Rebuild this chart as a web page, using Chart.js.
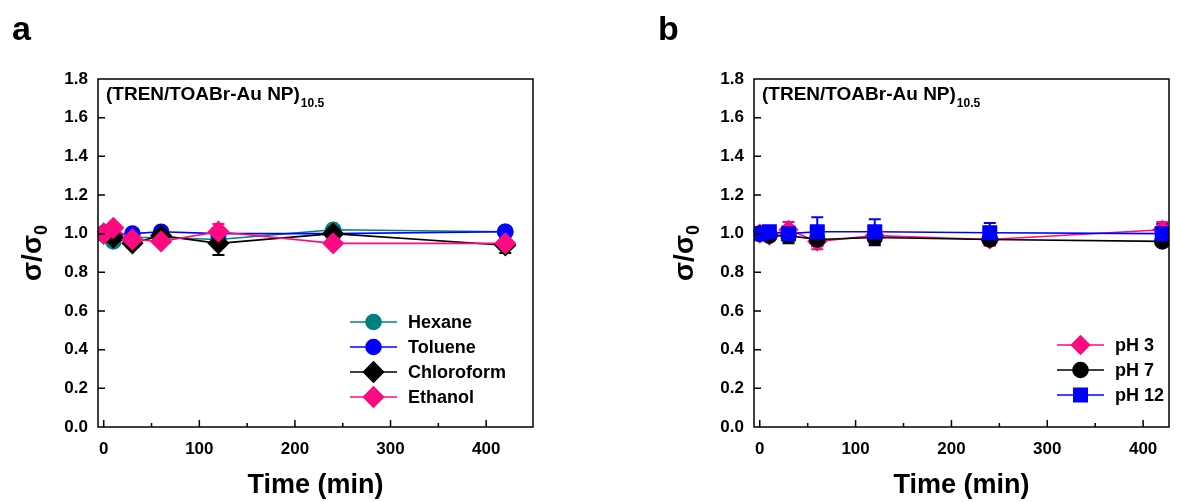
<!DOCTYPE html>
<html>
<head>
<meta charset="utf-8">
<title>Conductivity stability</title>
<script src="https://cdn.jsdelivr.net/npm/chart.js@4.4.1/dist/chart.umd.min.js"></script>
<style>
  html, body { margin: 0; padding: 0; background: #fff; }
  #wrap { position: relative; width: 1182px; height: 502px; overflow: hidden; }
  canvas { position: absolute; top: 0; }
  #chartA { left: 0; }
  #chartB { left: 591px; }
</style>
</head>
<body>
<div id="wrap">
  <canvas id="chartA" width="591" height="502"></canvas>
  <canvas id="chartB" width="591" height="502"></canvas>
</div>
<script>
// panel a: solvent immersion
const timesA = [0, 10, 30, 60, 120, 240, 420];
const hexane = [1.00, 0.96, 0.98, 0.98, 0.97, 1.02, 1.01];
const hexaneErr = [0.01, 0.01, 0.01, 0.01, 0.01, 0.02, 0.01];
const toluene = [1.00, 0.99, 1.00, 1.01, 1.00, 1.00, 1.01];
const tolueneErr = [0.01, 0.01, 0.01, 0.01, 0.01, 0.01, 0.02];
const chloroform = [1.00, 0.98, 0.95, 0.99, 0.95, 1.00, 0.94];
const chloroformErr = [0.01, 0.01, 0.02, 0.02, 0.06, 0.01, 0.04];
const ethanol = [1.00, 1.03, 0.97, 0.96, 1.01, 0.95, 0.95];
const ethanolErr = [0.01, 0.01, 0.01, 0.01, 0.04, 0.01, 0.01];

// panel b: pH immersion
const timesB = [0, 10, 30, 60, 120, 240, 420];
const ph3 = [1.00, 0.99, 1.02, 0.96, 0.99, 0.97, 1.02];
const ph3Err = [0.01, 0.01, 0.04, 0.04, 0.02, 0.03, 0.04];
const ph7 = [1.00, 0.99, 0.99, 0.97, 0.98, 0.97, 0.96];
const ph7Err = [0.01, 0.01, 0.04, 0.03, 0.04, 0.03, 0.02];
const ph12 = [1.00, 1.01, 1.00, 1.01, 1.01, 1.005, 1.00];
const ph12Err = [0.01, 0.02, 0.04, 0.075, 0.065, 0.05, 0.05];

const yTicks = [0, 0.2, 0.4, 0.6, 0.8, 1.0, 1.2, 1.4, 1.6, 1.8];
const xMajor = [0, 100, 200, 300, 400];
const xMinor = [50, 150, 250, 350];

const TEAL = '#008080';
const BLUE = '#0000ff';
const BLACK = '#000000';
const PINK = '#ff0a80';
const FONT = 'Arial, "Liberation Sans", sans-serif';

function series(label, xs, ys, errs, color, style, radius, order) {
  return {
    label: label,
    data: xs.map((x, i) => ({ x: x, y: ys[i] })),
    errors: errs,
    borderColor: color,
    backgroundColor: color,
    pointBackgroundColor: color,
    pointBorderColor: color,
    pointStyle: style,
    pointRadius: radius,
    pointHoverRadius: radius,
    borderWidth: 1.6,
    showLine: true,
    tension: 0,
    order: order
  };
}

// error bars, tick marks, frame, legend and text labels
const decorations = {
  id: 'decorations',
  beforeDatasetsDraw(chart) {
    const ctx = chart.ctx;
    const xs = chart.scales.x, ys = chart.scales.y;
    ctx.save();
    chart.data.datasets.forEach(ds => {
      ctx.strokeStyle = ds.borderColor;
      ctx.lineWidth = 2;
      ds.data.forEach((p, i) => {
        const e = ds.errors[i];
        const px = xs.getPixelForValue(p.x);
        const top = ys.getPixelForValue(p.y + e);
        const bot = ys.getPixelForValue(p.y - e);
        ctx.beginPath();
        ctx.moveTo(px, top); ctx.lineTo(px, bot);
        ctx.moveTo(px - 6, top); ctx.lineTo(px + 6, top);
        ctx.moveTo(px - 6, bot); ctx.lineTo(px + 6, bot);
        ctx.stroke();
      });
    });
    ctx.restore();
  },
  afterDraw(chart) {
    const ctx = chart.ctx;
    const a = chart.chartArea;
    const xs = chart.scales.x, ys = chart.scales.y;
    const o = chart.options.plugins.decorations;
    ctx.save();
    ctx.strokeStyle = '#000';
    ctx.lineWidth = 1.5;
    ctx.strokeRect(a.left, a.top, a.right - a.left, a.bottom - a.top);

    // inward ticks
    ctx.beginPath();
    xMajor.forEach(v => {
      const px = xs.getPixelForValue(v);
      ctx.moveTo(px, a.bottom); ctx.lineTo(px, a.bottom - 7);
    });
    xMinor.forEach(v => {
      const px = xs.getPixelForValue(v);
      ctx.moveTo(px, a.bottom); ctx.lineTo(px, a.bottom - 4);
    });
    yTicks.slice(1, -1).forEach(v => {
      const py = ys.getPixelForValue(v);
      ctx.moveTo(a.left, py); ctx.lineTo(a.left + 7, py);
    });
    ctx.stroke();

    // panel letter
    ctx.fillStyle = '#000';
    ctx.font = 'bold 34px ' + FONT;
    ctx.textBaseline = 'alphabetic';
    ctx.textAlign = 'left';
    ctx.fillText(o.letter, o.letterX, 40);

    // sample label with subscript
    ctx.font = 'bold 19px ' + FONT;
    const main = '(TREN/TOABr-Au NP)';
    ctx.fillText(main, a.left + 8, a.top + 21);
    const w = ctx.measureText(main).width;
    ctx.font = 'bold 12px ' + FONT;
    ctx.fillText('10.5', a.left + 8 + w + 1, a.top + 28);

    // y axis title: sigma / sigma_0
    ctx.translate(o.yTitleX, (a.top + a.bottom) / 2);
    ctx.rotate(-Math.PI / 2);
    const t1 = '\u03c3/\u03c3';
    ctx.font = 'bold 28px ' + FONT;
    const w1 = ctx.measureText(t1).width;
    ctx.font = 'bold 18px ' + FONT;
    const w2 = ctx.measureText('0').width;
    const start = -(w1 + w2) / 2;
    ctx.font = 'bold 28px ' + FONT;
    ctx.textBaseline = 'middle';
    ctx.fillText(t1, start, 0);
    ctx.font = 'bold 18px ' + FONT;
    ctx.fillText('0', start + w1, 9);
    ctx.setTransform(1, 0, 0, 1, 0, 0);

    // legend: line segment with marker, then label
    const L = o.legend;
    chart.data.datasets.slice().sort((p, q) => L.order.indexOf(p.label) - L.order.indexOf(q.label)).forEach((ds, i) => {
      const ly = L.y + i * L.step;
      ctx.strokeStyle = ds.borderColor;
      ctx.lineWidth = 1.6;
      ctx.beginPath();
      ctx.moveTo(L.x, ly); ctx.lineTo(L.x + 47, ly);
      ctx.stroke();
      Chart.helpers.drawPoint(ctx, {
        pointStyle: ds.pointStyle,
        radius: ds.pointRadius,
        borderWidth: 1,
        rotation: 0
      }, L.x + 23.5, ly);
      ctx.fillStyle = ds.borderColor;
      ctx.fill();
      ctx.fillStyle = '#000';
      ctx.font = 'bold 18px ' + FONT;
      ctx.textBaseline = 'middle';
      ctx.textAlign = 'left';
      ctx.fillText(ds.label, L.x + 58, ly + 1);
    });
    ctx.restore();
  }
};

function makeOptions(xMax, padLeft, padRight, deco) {
  return {
    responsive: false,
    animation: false,
    layout: { padding: { left: padLeft, right: padRight, top: 79, bottom: 0 } },
    plugins: {
      legend: { display: false },
      tooltip: { enabled: false },
      decorations: deco
    },
    scales: {
      x: {
        type: 'linear',
        min: -6,
        max: xMax,
        afterFit: s => { s.height = 75; },
        grid: { display: false, drawTicks: false },
        border: { display: false },
        ticks: {
          stepSize: 100,
          includeBounds: false,
          padding: 12,
          color: '#000',
          font: { family: FONT, size: 17, weight: 'bold' }
        },
        title: {
          display: true,
          text: 'Time (min)',
          color: '#000',
          padding: { top: 6, bottom: 0 },
          font: { family: FONT, size: 27, weight: 'bold' }
        }
      },
      y: {
        type: 'linear',
        min: 0,
        max: 1.8,
        afterFit: s => { s.width = 60; },
        afterBuildTicks: s => { s.ticks = yTicks.map(v => ({ value: v })); },
        grid: { display: false, drawTicks: false },
        border: { display: false },
        ticks: {
          padding: 10,
          color: '#000',
          font: { family: FONT, size: 17, weight: 'bold' },
          callback: v => v.toFixed(1)
        }
      }
    }
  };
}

new Chart(document.getElementById('chartA'), {
  type: 'scatter',
  data: {
    datasets: [
      series('Hexane', timesA, hexane, hexaneErr, TEAL, 'circle', 7.5, 3),
      series('Toluene', timesA, toluene, tolueneErr, BLUE, 'circle', 7.5, 2),
      series('Chloroform', timesA, chloroform, chloroformErr, BLACK, 'rectRot', 10, 1),
      series('Ethanol', timesA, ethanol, ethanolErr, PINK, 'rectRot', 10, 0)
    ]
  },
  options: makeOptions(449, 38, 58, {
    letter: 'a', letterX: 12, yTitleX: 33,
    legend: { x: 350, y: 322, step: 25, order: ['Hexane', 'Toluene', 'Chloroform', 'Ethanol'] }
  }),
  plugins: [decorations]
});

new Chart(document.getElementById('chartB'), {
  type: 'scatter',
  data: {
    datasets: [
      series('pH 3', timesB, ph3, ph3Err, PINK, 'rectRot', 9, 2),
      series('pH 7', timesB, ph7, ph7Err, BLACK, 'circle', 7.5, 1),
      series('pH 12', timesB, ph12, ph12Err, BLUE, 'rect', 9.5, 0)
    ]
  },
  options: makeOptions(427, 103, 13, {
    letter: 'b', letterX: 67, yTitleX: 94,
    legend: { x: 466, y: 345, step: 25, order: ['pH 3', 'pH 7', 'pH 12'] }
  }),
  plugins: [decorations]
});
</script>
</body>
</html>
